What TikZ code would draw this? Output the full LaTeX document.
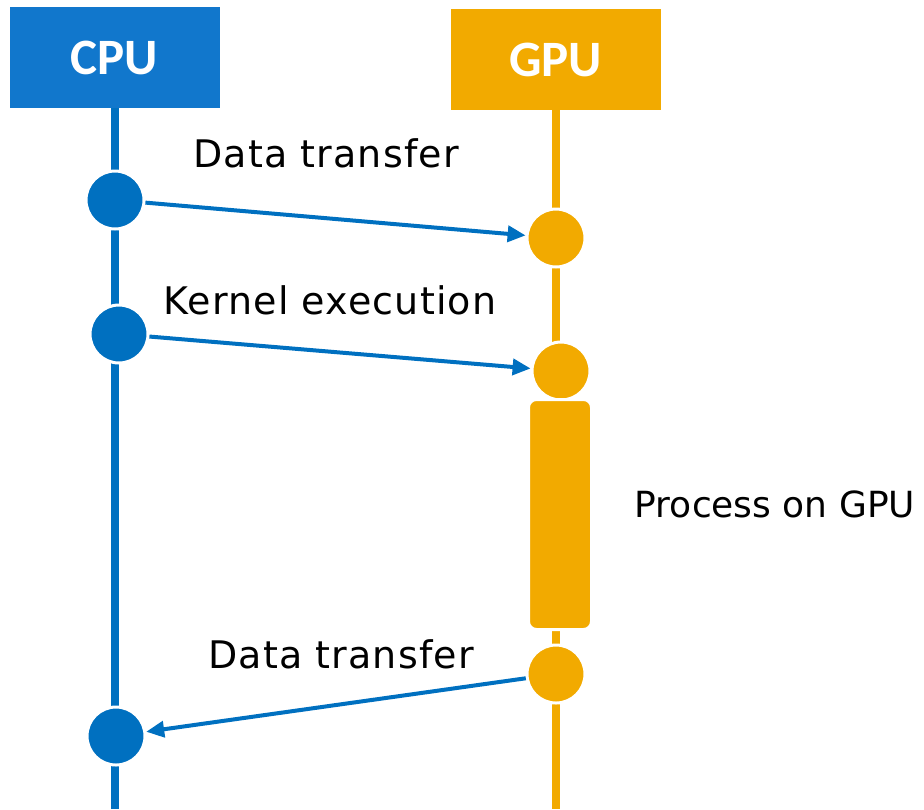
\documentclass[tikz,border=0pt]{standalone}
\usepackage{fontspec}
\setmainfont{DejaVu Sans}
\newfontfamily\headfont{Carlito}
\newfontfamily\spacedfont[LetterSpace=3]{DejaVu Sans}
\usetikzlibrary{arrows.meta}
\definecolor{cpublue}{RGB}{17,119,204}
\definecolor{lineblue}{RGB}{0,112,192}
\definecolor{gpuorange}{RGB}{242,170,0}
\tikzset{>={Triangle[length=9pt,width=8pt]}}
\tikzset{
  header/.style={rectangle, inner sep=0pt, minimum width=105pt, minimum height=50.5pt,
    text=white, font=\headfont\bfseries\fontsize{25.5}{30}\selectfont},
  event/.style={circle, inner sep=0pt, minimum size=29pt, draw=white, line width=1.5pt},
  lifeline/.style={line width=4.3pt},
  message/.style={->, draw=lineblue, line width=2pt},
  msglabel/.style={inner sep=0pt, font=\spacedfont\fontsize{19}{23}\selectfont},
}

\begin{document}
\begin{tikzpicture}[x=0.5pt,y=-0.5pt]
  \useasboundingbox (0,0) rectangle (924,809);
  % headers and lifelines
  \node[header, fill=cpublue] (cpu) at (114.5,57.5) {CPU};
  \node[header, fill=gpuorange] (gpu) at (555.5,59.5) {GPU};
  \coordinate (cpuend) at (115,809);
  \coordinate (gpuend) at (556,809);
  \draw[lifeline, lineblue] (cpu.south -| cpuend) -- (cpuend);
  \draw[lifeline, gpuorange] (gpu.south -| gpuend) -- (gpuend);

  % events
  \node[event, fill=lineblue] (c1) at (115,200) {};
  \node[event, fill=lineblue] (c2) at (119,334) {};
  \node[event, fill=lineblue] (c3) at (116,736) {};
  \node[event, fill=gpuorange] (g1) at (556,238) {};
  \node[event, fill=gpuorange] (g2) at (561,371) {};
  \node[event, fill=gpuorange] (g3) at (556,674) {};
  \node[rectangle, rounded corners=4pt, fill=gpuorange, draw=white, line width=1.5pt,
    minimum width=31.5pt, minimum height=115pt] (proc) at (560,514.5) {};

  % messages
  \draw[message] (c1) -- (g1);
  \draw[message] (c2) -- (g2);
  \draw[message] (g3) -- (c3);

  \node[msglabel] (t1) at (326,153.5) {Data transfer};
  \node[msglabel] (t2) at (330,300) {Kernel execution};
  \node[msglabel] (t3) at (341,654) {Data transfer};
  \node[inner sep=0pt, font=\fontsize{18}{22}\selectfont] (t4) at (775,504.5) {Process on GPU};
\end{tikzpicture}
\end{document}
